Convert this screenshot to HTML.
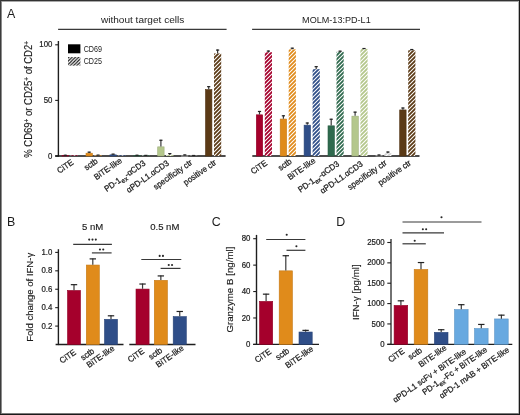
<!DOCTYPE html>
<html><head><meta charset="utf-8"><style>
html,body{margin:0;padding:0;background:#fff;width:520px;height:415px;overflow:hidden}
svg{display:block;will-change:transform;font-family:"Liberation Sans", sans-serif}
.s{stroke:#1c1c1c;stroke-width:0.25px}
.t{stroke:#1c1c1c;stroke-width:0.22px}
.u{stroke:#1c1c1c;stroke-width:0.15px}
</style></head><body>
<svg width="520" height="415" viewBox="0 0 520 415">
<defs>
<pattern id="h_a5002c" patternUnits="userSpaceOnUse" width="4" height="4"><rect width="4" height="4" fill="#ffffff"/><path d="M-1,1 l2,-2 M0,4 l4,-4 M3,5 l2,-2" stroke="#a5002c" stroke-width="1.8"/></pattern>
<pattern id="h_e08b1b" patternUnits="userSpaceOnUse" width="4" height="4"><rect width="4" height="4" fill="#ffffff"/><path d="M-1,1 l2,-2 M0,4 l4,-4 M3,5 l2,-2" stroke="#e08b1b" stroke-width="1.8"/></pattern>
<pattern id="h_2f4e88" patternUnits="userSpaceOnUse" width="4" height="4"><rect width="4" height="4" fill="#ffffff"/><path d="M-1,1 l2,-2 M0,4 l4,-4 M3,5 l2,-2" stroke="#2f4e88" stroke-width="1.8"/></pattern>
<pattern id="h_2f6a4e" patternUnits="userSpaceOnUse" width="4" height="4"><rect width="4" height="4" fill="#ffffff"/><path d="M-1,1 l2,-2 M0,4 l4,-4 M3,5 l2,-2" stroke="#2f6a4e" stroke-width="1.8"/></pattern>
<pattern id="h_b4c78c" patternUnits="userSpaceOnUse" width="4" height="4"><rect width="4" height="4" fill="#ffffff"/><path d="M-1,1 l2,-2 M0,4 l4,-4 M3,5 l2,-2" stroke="#b4c78c" stroke-width="1.8"/></pattern>
<pattern id="h_cfcfcf" patternUnits="userSpaceOnUse" width="4" height="4"><rect width="4" height="4" fill="#ffffff"/><path d="M-1,1 l2,-2 M0,4 l4,-4 M3,5 l2,-2" stroke="#cfcfcf" stroke-width="1.8"/></pattern>
<pattern id="h_5b3a16" patternUnits="userSpaceOnUse" width="4" height="4"><rect width="4" height="4" fill="#ffffff"/><path d="M-1,1 l2,-2 M0,4 l4,-4 M3,5 l2,-2" stroke="#5b3a16" stroke-width="1.8"/></pattern>
<pattern id="h_leg" patternUnits="userSpaceOnUse" width="3.3" height="3.3" x="0.6" y="0"><rect width="3.3" height="3.3" fill="#ffffff"/><path d="M-1,1 l2,-2 M0,3.3 l3.3,-3.3 M2.3,4.3 l2,-2" stroke="#111" stroke-width="1.1"/></pattern>
</defs>
<rect width="520" height="415" fill="#fff"/>
<text x="7.0" y="17.6" font-size="12.4" text-anchor="start" fill="#1c1c1c">A</text>
<text x="142.6" y="23.1" font-size="9.4" text-anchor="middle" fill="#1c1c1c" textLength="83.4" lengthAdjust="spacingAndGlyphs">without target cells</text>
<line x1="58.1" y1="29.4" x2="226.6" y2="29.4" stroke="#3a3a3a" stroke-width="1.2"/>
<text x="336.4" y="23.0" font-size="9.4" text-anchor="middle" fill="#1c1c1c" textLength="68.6" lengthAdjust="spacingAndGlyphs">MOLM-13:PD-L1</text>
<line x1="252.1" y1="29.4" x2="420" y2="29.4" stroke="#3a3a3a" stroke-width="1.2"/>
<line x1="58.4" y1="41" x2="58.4" y2="156.6" stroke="#1e1e1e" stroke-width="1.4"/>
<line x1="55.2" y1="44.79999999999998" x2="58.4" y2="44.79999999999998" stroke="#1e1e1e" stroke-width="1.1"/>
<text x="0" y="0" font-size="8.6" text-anchor="end" fill="#1c1c1c" transform="translate(52.40 47.40) scale(0.91 1)" class="t">100</text>
<line x1="55.2" y1="100.39999999999999" x2="58.4" y2="100.39999999999999" stroke="#1e1e1e" stroke-width="1.1"/>
<text x="0" y="0" font-size="8.6" text-anchor="end" fill="#1c1c1c" transform="translate(52.40 103.00) scale(0.91 1)" class="t">50</text>
<line x1="55.2" y1="156.0" x2="58.4" y2="156.0" stroke="#1e1e1e" stroke-width="1.1"/>
<text x="0" y="0" font-size="8.6" text-anchor="end" fill="#1c1c1c" transform="translate(52.40 158.60) scale(0.91 1)" class="t">0</text>
<text x="0" y="0" font-size="10.1" text-anchor="middle" fill="#1c1c1c" transform="translate(32.30 99.40) rotate(-90) scale(0.94 1)" class="u">% CD69<tspan dy="-3.6" font-size="6.8">+</tspan><tspan dy="3.6"> or CD25</tspan><tspan dy="-3.6" font-size="6.8">+</tspan><tspan dy="3.6"> of CD2</tspan><tspan dy="-3.6" font-size="6.8">+</tspan></text>
<rect x="68.00" y="44.30" width="12.40" height="9.00" fill="#000"/>
<rect x="68.00" y="57.00" width="12.40" height="8.60" fill="url(#h_leg)"/>
<text x="83.7" y="52.2" font-size="8.4" text-anchor="start" fill="#1c1c1c" textLength="18.3" lengthAdjust="spacingAndGlyphs">CD69</text>
<text x="83.7" y="64.2" font-size="8.4" text-anchor="start" fill="#1c1c1c" textLength="18.3" lengthAdjust="spacingAndGlyphs">CD25</text>
<line x1="55.2" y1="156.0" x2="225.6" y2="156.0" stroke="#111" stroke-width="1.5"/>
<rect x="62.10" y="155.41" width="6.40" height="0.59" fill="#a5002c" stroke="#910026" stroke-width="0.6"/>
<line x1="65.3" y1="154.7768" x2="65.3" y2="155.1104" stroke="#3a3a3a" stroke-width="1.2"/>
<line x1="63.699999999999996" y1="155.2768" x2="66.89999999999999" y2="155.2768" stroke="#222" stroke-width="1.2"/>
<rect x="70.60" y="155.40" width="7.20" height="0.60" fill="url(#h_a5002c)"/>
<rect x="86.00" y="153.19" width="6.40" height="2.81" fill="#e08b1b" stroke="#c57a17" stroke-width="0.6"/>
<line x1="89.19999999999999" y1="151.6632" x2="89.19999999999999" y2="152.8864" stroke="#3a3a3a" stroke-width="1.2"/>
<line x1="87.6" y1="152.1632" x2="90.79999999999998" y2="152.1632" stroke="#222" stroke-width="1.2"/>
<rect x="94.50" y="155.33" width="7.20" height="0.67" fill="url(#h_e08b1b)"/>
<line x1="98.09999999999998" y1="154.6656" x2="98.09999999999998" y2="155.3328" stroke="#3a3a3a" stroke-width="1.2"/>
<line x1="96.49999999999999" y1="155.1656" x2="99.69999999999997" y2="155.1656" stroke="#222" stroke-width="1.2"/>
<rect x="109.90" y="154.85" width="6.40" height="1.15" fill="#2f4e88" stroke="#294477" stroke-width="0.6"/>
<line x1="113.1" y1="153.6648" x2="113.1" y2="154.5544" stroke="#3a3a3a" stroke-width="1.2"/>
<line x1="111.5" y1="154.1648" x2="114.69999999999999" y2="154.1648" stroke="#222" stroke-width="1.2"/>
<rect x="118.40" y="155.40" width="7.20" height="0.60" fill="url(#h_2f4e88)"/>
<rect x="133.80" y="155.52" width="6.40" height="0.48" fill="#2f6a4e" stroke="#295d44" stroke-width="0.6"/>
<line x1="137.0" y1="154.7768" x2="137.0" y2="155.2216" stroke="#3a3a3a" stroke-width="1.2"/>
<line x1="135.4" y1="155.2768" x2="138.6" y2="155.2768" stroke="#222" stroke-width="1.2"/>
<rect x="142.30" y="155.33" width="7.20" height="0.67" fill="url(#h_2f6a4e)"/>
<line x1="145.9" y1="154.888" x2="145.9" y2="155.3328" stroke="#3a3a3a" stroke-width="1.2"/>
<line x1="144.3" y1="155.388" x2="147.5" y2="155.388" stroke="#222" stroke-width="1.2"/>
<rect x="157.70" y="146.85" width="6.40" height="9.15" fill="#b4c78c" stroke="#9eaf7b" stroke-width="0.6"/>
<line x1="160.89999999999998" y1="139.7648" x2="160.89999999999998" y2="146.548" stroke="#3a3a3a" stroke-width="1.2"/>
<line x1="159.29999999999998" y1="140.2648" x2="162.49999999999997" y2="140.2648" stroke="#222" stroke-width="1.2"/>
<rect x="166.20" y="154.89" width="7.20" height="1.11" fill="url(#h_b4c78c)"/>
<line x1="169.79999999999998" y1="153.1088" x2="169.79999999999998" y2="154.888" stroke="#3a3a3a" stroke-width="1.2"/>
<line x1="168.2" y1="153.6088" x2="171.39999999999998" y2="153.6088" stroke="#222" stroke-width="1.2"/>
<rect x="181.60" y="155.86" width="6.40" height="0.30" fill="#cfcfcf" stroke="#b6b6b6" stroke-width="0.6"/>
<line x1="184.8" y1="154.4432" x2="184.8" y2="155.5552" stroke="#3a3a3a" stroke-width="1.2"/>
<line x1="183.20000000000002" y1="154.9432" x2="186.4" y2="154.9432" stroke="#222" stroke-width="1.2"/>
<rect x="190.10" y="155.67" width="7.20" height="0.33" fill="url(#h_cfcfcf)"/>
<line x1="193.70000000000002" y1="154.9992" x2="193.70000000000002" y2="155.6664" stroke="#3a3a3a" stroke-width="1.2"/>
<line x1="192.10000000000002" y1="155.4992" x2="195.3" y2="155.4992" stroke="#222" stroke-width="1.2"/>
<rect x="205.50" y="89.58" width="6.40" height="66.42" fill="#5b3a16" stroke="#503313" stroke-width="0.6"/>
<line x1="208.7" y1="86.1664" x2="208.7" y2="89.28" stroke="#3a3a3a" stroke-width="1.2"/>
<line x1="207.1" y1="86.6664" x2="210.29999999999998" y2="86.6664" stroke="#222" stroke-width="1.2"/>
<rect x="214.00" y="53.47" width="7.20" height="102.53" fill="url(#h_5b3a16)"/>
<line x1="217.6" y1="49.58159999999998" x2="217.6" y2="53.47359999999999" stroke="#3a3a3a" stroke-width="1.2"/>
<line x1="216.0" y1="50.08159999999998" x2="219.2" y2="50.08159999999998" stroke="#222" stroke-width="1.2"/>
<line x1="252.3" y1="156.0" x2="419.5" y2="156.0" stroke="#111" stroke-width="1.5"/>
<rect x="256.30" y="114.82" width="6.40" height="41.18" fill="#a5002c" stroke="#910026" stroke-width="0.6"/>
<line x1="259.5" y1="110.964" x2="259.5" y2="114.5224" stroke="#3a3a3a" stroke-width="1.2"/>
<line x1="257.9" y1="111.464" x2="261.1" y2="111.464" stroke="#222" stroke-width="1.2"/>
<rect x="264.80" y="52.25" width="7.20" height="103.75" fill="url(#h_a5002c)"/>
<line x1="268.40000000000003" y1="50.58239999999999" x2="268.40000000000003" y2="52.2504" stroke="#3a3a3a" stroke-width="1.2"/>
<line x1="266.8" y1="51.08239999999999" x2="270.00000000000006" y2="51.08239999999999" stroke="#222" stroke-width="1.2"/>
<rect x="280.20" y="119.05" width="6.40" height="36.95" fill="#e08b1b" stroke="#c57a17" stroke-width="0.6"/>
<line x1="283.4" y1="115.3008" x2="283.4" y2="118.74799999999999" stroke="#3a3a3a" stroke-width="1.2"/>
<line x1="281.79999999999995" y1="115.8008" x2="285.0" y2="115.8008" stroke="#222" stroke-width="1.2"/>
<rect x="288.70" y="49.36" width="7.20" height="106.64" fill="url(#h_e08b1b)"/>
<line x1="292.3" y1="47.69119999999998" x2="292.3" y2="49.35919999999999" stroke="#3a3a3a" stroke-width="1.2"/>
<line x1="290.7" y1="48.19119999999998" x2="293.90000000000003" y2="48.19119999999998" stroke="#222" stroke-width="1.2"/>
<rect x="304.10" y="125.16" width="6.40" height="30.84" fill="#2f4e88" stroke="#294477" stroke-width="0.6"/>
<line x1="307.3" y1="122.52879999999999" x2="307.3" y2="124.864" stroke="#3a3a3a" stroke-width="1.2"/>
<line x1="305.7" y1="123.02879999999999" x2="308.90000000000003" y2="123.02879999999999" stroke="#222" stroke-width="1.2"/>
<rect x="312.60" y="69.15" width="7.20" height="86.85" fill="url(#h_2f4e88)"/>
<line x1="316.20000000000005" y1="66.15039999999999" x2="316.20000000000005" y2="69.1528" stroke="#3a3a3a" stroke-width="1.2"/>
<line x1="314.6" y1="66.65039999999999" x2="317.80000000000007" y2="66.65039999999999" stroke="#222" stroke-width="1.2"/>
<rect x="328.00" y="125.83" width="6.40" height="30.17" fill="#2f6a4e" stroke="#295d44" stroke-width="0.6"/>
<line x1="331.2" y1="118.74799999999999" x2="331.2" y2="125.5312" stroke="#3a3a3a" stroke-width="1.2"/>
<line x1="329.59999999999997" y1="119.24799999999999" x2="332.8" y2="119.24799999999999" stroke="#222" stroke-width="1.2"/>
<rect x="336.50" y="51.81" width="7.20" height="104.19" fill="url(#h_2f6a4e)"/>
<line x1="340.1" y1="50.69359999999999" x2="340.1" y2="51.805599999999984" stroke="#3a3a3a" stroke-width="1.2"/>
<line x1="338.5" y1="51.19359999999999" x2="341.70000000000005" y2="51.19359999999999" stroke="#222" stroke-width="1.2"/>
<rect x="351.90" y="116.16" width="6.40" height="39.84" fill="#b4c78c" stroke="#9eaf7b" stroke-width="0.6"/>
<line x1="355.1" y1="111.6312" x2="355.1" y2="115.85679999999999" stroke="#3a3a3a" stroke-width="1.2"/>
<line x1="353.5" y1="112.1312" x2="356.70000000000005" y2="112.1312" stroke="#222" stroke-width="1.2"/>
<rect x="360.40" y="48.91" width="7.20" height="107.09" fill="url(#h_b4c78c)"/>
<line x1="364.00000000000006" y1="48.0248" x2="364.00000000000006" y2="48.9144" stroke="#3a3a3a" stroke-width="1.2"/>
<line x1="362.40000000000003" y1="48.5248" x2="365.6000000000001" y2="48.5248" stroke="#222" stroke-width="1.2"/>
<rect x="375.80" y="155.70" width="6.40" height="0.30" fill="#cfcfcf" stroke="#b6b6b6" stroke-width="0.6"/>
<line x1="379.0" y1="154.5544" x2="379.0" y2="155.4" stroke="#3a3a3a" stroke-width="1.2"/>
<line x1="377.4" y1="155.0544" x2="380.6" y2="155.0544" stroke="#222" stroke-width="1.2"/>
<rect x="384.30" y="153.22" width="7.20" height="2.78" fill="url(#h_cfcfcf)"/>
<line x1="387.90000000000003" y1="151.552" x2="387.90000000000003" y2="153.22" stroke="#3a3a3a" stroke-width="1.2"/>
<line x1="386.3" y1="152.052" x2="389.50000000000006" y2="152.052" stroke="#222" stroke-width="1.2"/>
<rect x="399.70" y="109.93" width="6.40" height="46.07" fill="#5b3a16" stroke="#503313" stroke-width="0.6"/>
<line x1="402.9" y1="107.51679999999999" x2="402.9" y2="109.62959999999998" stroke="#3a3a3a" stroke-width="1.2"/>
<line x1="401.29999999999995" y1="108.01679999999999" x2="404.5" y2="108.01679999999999" stroke="#222" stroke-width="1.2"/>
<rect x="408.20" y="50.25" width="7.20" height="105.75" fill="url(#h_5b3a16)"/>
<line x1="411.8" y1="49.02559999999998" x2="411.8" y2="50.2488" stroke="#3a3a3a" stroke-width="1.2"/>
<line x1="410.2" y1="49.52559999999998" x2="413.40000000000003" y2="49.52559999999998" stroke="#222" stroke-width="1.2"/>
<text x="7.0" y="225.5" font-size="12.4" text-anchor="start" fill="#1c1c1c">B</text>
<line x1="58.4" y1="249.2" x2="58.4" y2="345.1" stroke="#1e1e1e" stroke-width="1.4"/>
<line x1="55.2" y1="252.4" x2="58.4" y2="252.4" stroke="#1e1e1e" stroke-width="1.1"/>
<text x="0" y="0" font-size="8.6" text-anchor="end" fill="#1c1c1c" transform="translate(52.40 255.00) scale(0.91 1)" class="t">1.0</text>
<line x1="55.2" y1="270.82" x2="58.4" y2="270.82" stroke="#1e1e1e" stroke-width="1.1"/>
<text x="0" y="0" font-size="8.6" text-anchor="end" fill="#1c1c1c" transform="translate(52.40 273.42) scale(0.91 1)" class="t">0.8</text>
<line x1="55.2" y1="289.24" x2="58.4" y2="289.24" stroke="#1e1e1e" stroke-width="1.1"/>
<text x="0" y="0" font-size="8.6" text-anchor="end" fill="#1c1c1c" transform="translate(52.40 291.84) scale(0.91 1)" class="t">0.6</text>
<line x1="55.2" y1="307.66" x2="58.4" y2="307.66" stroke="#1e1e1e" stroke-width="1.1"/>
<text x="0" y="0" font-size="8.6" text-anchor="end" fill="#1c1c1c" transform="translate(52.40 310.26) scale(0.91 1)" class="t">0.4</text>
<line x1="55.2" y1="326.08" x2="58.4" y2="326.08" stroke="#1e1e1e" stroke-width="1.1"/>
<text x="0" y="0" font-size="8.6" text-anchor="end" fill="#1c1c1c" transform="translate(52.40 328.68) scale(0.91 1)" class="t">0.2</text>
<line x1="55.6" y1="344.5" x2="123.5" y2="344.5" stroke="#1e1e1e" stroke-width="1.3"/>
<line x1="129.3" y1="344.5" x2="195.5" y2="344.5" stroke="#1e1e1e" stroke-width="1.3"/>
<text x="33.4" y="297.3" font-size="9.5" text-anchor="middle" fill="#1c1c1c" transform="rotate(-90 33.4 297.3)" textLength="89" lengthAdjust="spacingAndGlyphs" class="u">Fold change of IFN-γ</text>
<text x="92.7" y="230.0" font-size="9.8" text-anchor="middle" fill="#1c1c1c" textLength="21.3" lengthAdjust="spacingAndGlyphs" class="u">5 nM</text>
<text x="164.8" y="230.0" font-size="9.8" text-anchor="middle" fill="#1c1c1c" textLength="29.2" lengthAdjust="spacingAndGlyphs" class="u">0.5 nM</text>
<rect x="67.50" y="290.46" width="13.00" height="54.04" fill="#a5002c" stroke="#910026" stroke-width="0.6"/>
<line x1="74.0" y1="284.1745" x2="74.0" y2="290.161" stroke="#3a3a3a" stroke-width="1.2"/>
<line x1="70.8" y1="284.6745" x2="77.2" y2="284.6745" stroke="#222" stroke-width="1.2"/>
<rect x="86.30" y="265.04" width="13.00" height="79.46" fill="#e08b1b" stroke="#c57a17" stroke-width="0.6"/>
<line x1="92.8" y1="258.3865" x2="92.8" y2="264.7414" stroke="#3a3a3a" stroke-width="1.2"/>
<line x1="89.6" y1="258.8865" x2="96.0" y2="258.8865" stroke="#222" stroke-width="1.2"/>
<rect x="104.50" y="319.29" width="13.00" height="25.21" fill="#2f4e88" stroke="#294477" stroke-width="0.6"/>
<line x1="111.0" y1="315.3043" x2="111.0" y2="318.9883" stroke="#3a3a3a" stroke-width="1.2"/>
<line x1="107.8" y1="315.8043" x2="114.2" y2="315.8043" stroke="#222" stroke-width="1.2"/>
<rect x="136.00" y="289.08" width="13.10" height="55.42" fill="#a5002c" stroke="#910026" stroke-width="0.6"/>
<line x1="142.54999999999998" y1="283.5298" x2="142.54999999999998" y2="288.7795" stroke="#3a3a3a" stroke-width="1.2"/>
<line x1="139.35" y1="284.0298" x2="145.74999999999997" y2="284.0298" stroke="#222" stroke-width="1.2"/>
<rect x="154.30" y="280.33" width="13.10" height="64.17" fill="#e08b1b" stroke="#c57a17" stroke-width="0.6"/>
<line x1="160.85" y1="275.425" x2="160.85" y2="280.03" stroke="#3a3a3a" stroke-width="1.2"/>
<line x1="157.65" y1="275.925" x2="164.04999999999998" y2="275.925" stroke="#222" stroke-width="1.2"/>
<rect x="173.20" y="316.62" width="13.10" height="27.88" fill="#2f4e88" stroke="#294477" stroke-width="0.6"/>
<line x1="179.75" y1="310.9756" x2="179.75" y2="316.3174" stroke="#3a3a3a" stroke-width="1.2"/>
<line x1="176.55" y1="311.4756" x2="182.95" y2="311.4756" stroke="#222" stroke-width="1.2"/>
<line x1="73.2" y1="244.3" x2="111.9" y2="244.3" stroke="#383838" stroke-width="1.2"/>
<circle cx="89.20" cy="239.60" r="1.05" fill="#262626"/>
<circle cx="92.50" cy="239.60" r="1.05" fill="#262626"/>
<circle cx="95.80" cy="239.60" r="1.05" fill="#262626"/>
<line x1="91.9" y1="252.9" x2="111.6" y2="252.9" stroke="#383838" stroke-width="1.2"/>
<circle cx="99.95" cy="249.50" r="1.05" fill="#262626"/>
<circle cx="103.25" cy="249.50" r="1.05" fill="#262626"/>
<line x1="141.3" y1="259.5" x2="181.3" y2="259.5" stroke="#383838" stroke-width="1.2"/>
<circle cx="159.65" cy="255.90" r="1.05" fill="#262626"/>
<circle cx="162.95" cy="255.90" r="1.05" fill="#262626"/>
<line x1="160.6" y1="268.4" x2="180.5" y2="268.4" stroke="#383838" stroke-width="1.2"/>
<circle cx="168.75" cy="265.00" r="1.05" fill="#262626"/>
<circle cx="172.05" cy="265.00" r="1.05" fill="#262626"/>
<text x="211.8" y="225.5" font-size="12.4" text-anchor="start" fill="#1c1c1c">C</text>
<line x1="256.5" y1="234.9" x2="256.5" y2="345.0" stroke="#1e1e1e" stroke-width="1.4"/>
<line x1="253.2" y1="238.7" x2="256.5" y2="238.7" stroke="#1e1e1e" stroke-width="1.1"/>
<text x="0" y="0" font-size="8.6" text-anchor="end" fill="#1c1c1c" transform="translate(250.40 241.30) scale(0.91 1)" class="t">80</text>
<line x1="253.2" y1="265.125" x2="256.5" y2="265.125" stroke="#1e1e1e" stroke-width="1.1"/>
<text x="0" y="0" font-size="8.6" text-anchor="end" fill="#1c1c1c" transform="translate(250.40 267.73) scale(0.91 1)" class="t">60</text>
<line x1="253.2" y1="291.54999999999995" x2="256.5" y2="291.54999999999995" stroke="#1e1e1e" stroke-width="1.1"/>
<text x="0" y="0" font-size="8.6" text-anchor="end" fill="#1c1c1c" transform="translate(250.40 294.15) scale(0.91 1)" class="t">40</text>
<line x1="253.2" y1="317.97499999999997" x2="256.5" y2="317.97499999999997" stroke="#1e1e1e" stroke-width="1.1"/>
<text x="0" y="0" font-size="8.6" text-anchor="end" fill="#1c1c1c" transform="translate(250.40 320.57) scale(0.91 1)" class="t">20</text>
<line x1="253.2" y1="344.4" x2="256.5" y2="344.4" stroke="#1e1e1e" stroke-width="1.1"/>
<text x="0" y="0" font-size="8.6" text-anchor="end" fill="#1c1c1c" transform="translate(250.40 347.00) scale(0.91 1)" class="t">0</text>
<line x1="253.2" y1="344.4" x2="319" y2="344.4" stroke="#1e1e1e" stroke-width="1.3"/>
<text x="233.0" y="289.6" font-size="9.5" text-anchor="middle" fill="#1c1c1c" transform="rotate(-90 233.0 289.6)" textLength="86" lengthAdjust="spacingAndGlyphs" class="u">Granzyme B [ng/ml]</text>
<rect x="259.50" y="301.36" width="13.20" height="43.04" fill="#a5002c" stroke="#910026" stroke-width="0.6"/>
<line x1="266.09999999999997" y1="293.664" x2="266.09999999999997" y2="301.063" stroke="#3a3a3a" stroke-width="1.2"/>
<line x1="262.9" y1="294.164" x2="269.29999999999995" y2="294.164" stroke="#222" stroke-width="1.2"/>
<rect x="279.20" y="270.84" width="13.20" height="73.56" fill="#e08b1b" stroke="#c57a17" stroke-width="0.6"/>
<line x1="285.79999999999995" y1="255.215625" x2="285.79999999999995" y2="270.542125" stroke="#3a3a3a" stroke-width="1.2"/>
<line x1="282.59999999999997" y1="255.715625" x2="288.99999999999994" y2="255.715625" stroke="#222" stroke-width="1.2"/>
<rect x="299.00" y="332.02" width="13.20" height="12.38" fill="#2f4e88" stroke="#294477" stroke-width="0.6"/>
<line x1="305.59999999999997" y1="329.86625" x2="305.59999999999997" y2="331.716" stroke="#3a3a3a" stroke-width="1.2"/>
<line x1="302.4" y1="330.36625" x2="308.79999999999995" y2="330.36625" stroke="#222" stroke-width="1.2"/>
<line x1="266.2" y1="239.5" x2="305.4" y2="239.5" stroke="#383838" stroke-width="1.2"/>
<circle cx="286.70" cy="234.70" r="1.05" fill="#262626"/>
<line x1="286.5" y1="250.3" x2="305.4" y2="250.3" stroke="#383838" stroke-width="1.2"/>
<circle cx="296.40" cy="246.20" r="1.05" fill="#262626"/>
<text x="336.3" y="225.5" font-size="12.4" text-anchor="start" fill="#1c1c1c">D</text>
<line x1="391.0" y1="239.0" x2="391.0" y2="344.90000000000003" stroke="#1e1e1e" stroke-width="1.25"/>
<line x1="387.3" y1="242.5" x2="391.0" y2="242.5" stroke="#1e1e1e" stroke-width="1.1"/>
<text x="0" y="0" font-size="8.6" text-anchor="end" fill="#1c1c1c" transform="translate(384.60 245.10) scale(0.91 1)" class="t">2500</text>
<line x1="387.3" y1="262.86" x2="391.0" y2="262.86" stroke="#1e1e1e" stroke-width="1.1"/>
<text x="0" y="0" font-size="8.6" text-anchor="end" fill="#1c1c1c" transform="translate(384.60 265.46) scale(0.91 1)" class="t">2000</text>
<line x1="387.3" y1="283.22" x2="391.0" y2="283.22" stroke="#1e1e1e" stroke-width="1.1"/>
<text x="0" y="0" font-size="8.6" text-anchor="end" fill="#1c1c1c" transform="translate(384.60 285.82) scale(0.91 1)" class="t">1500</text>
<line x1="387.3" y1="303.58" x2="391.0" y2="303.58" stroke="#1e1e1e" stroke-width="1.1"/>
<text x="0" y="0" font-size="8.6" text-anchor="end" fill="#1c1c1c" transform="translate(384.60 306.18) scale(0.91 1)" class="t">1000</text>
<line x1="387.3" y1="323.94" x2="391.0" y2="323.94" stroke="#1e1e1e" stroke-width="1.1"/>
<text x="0" y="0" font-size="8.6" text-anchor="end" fill="#1c1c1c" transform="translate(384.60 326.54) scale(0.91 1)" class="t">500</text>
<line x1="387.3" y1="344.3" x2="391.0" y2="344.3" stroke="#1e1e1e" stroke-width="1.1"/>
<text x="0" y="0" font-size="8.6" text-anchor="end" fill="#1c1c1c" transform="translate(384.60 346.90) scale(0.91 1)" class="t">0</text>
<line x1="387.3" y1="344.3" x2="512.3" y2="344.3" stroke="#1e1e1e" stroke-width="1.3"/>
<text x="358.7" y="292.2" font-size="9.5" text-anchor="middle" fill="#1c1c1c" transform="rotate(-90 358.7 292.2)" textLength="55.7" lengthAdjust="spacingAndGlyphs" class="u">IFN-γ [pg/ml]</text>
<rect x="394.10" y="305.43" width="13.60" height="38.87" fill="#a5002c" stroke="#910026" stroke-width="0.6"/>
<line x1="400.90000000000003" y1="300.3224" x2="400.90000000000003" y2="305.12736" stroke="#3a3a3a" stroke-width="1.2"/>
<line x1="397.70000000000005" y1="300.8224" x2="404.1" y2="300.8224" stroke="#222" stroke-width="1.2"/>
<rect x="414.20" y="269.47" width="13.60" height="74.83" fill="#e08b1b" stroke="#c57a17" stroke-width="0.6"/>
<line x1="421.0" y1="262.0456" x2="421.0" y2="269.1716" stroke="#3a3a3a" stroke-width="1.2"/>
<line x1="417.8" y1="262.5456" x2="424.2" y2="262.5456" stroke="#222" stroke-width="1.2"/>
<rect x="434.40" y="332.38" width="13.60" height="11.92" fill="#2f4e88" stroke="#294477" stroke-width="0.6"/>
<line x1="441.20000000000005" y1="329.2336" x2="441.20000000000005" y2="332.084" stroke="#3a3a3a" stroke-width="1.2"/>
<line x1="438.00000000000006" y1="329.7336" x2="444.40000000000003" y2="329.7336" stroke="#222" stroke-width="1.2"/>
<rect x="454.50" y="309.58" width="13.60" height="34.72" fill="#68a9e0" stroke="#5b94c5" stroke-width="0.6"/>
<line x1="461.3" y1="304.1908" x2="461.3" y2="309.2808" stroke="#3a3a3a" stroke-width="1.2"/>
<line x1="458.1" y1="304.6908" x2="464.5" y2="304.6908" stroke="#222" stroke-width="1.2"/>
<rect x="474.50" y="328.52" width="13.60" height="15.78" fill="#68a9e0" stroke="#5b94c5" stroke-width="0.6"/>
<line x1="481.3" y1="323.94" x2="481.3" y2="328.2156" stroke="#3a3a3a" stroke-width="1.2"/>
<line x1="478.1" y1="324.44" x2="484.5" y2="324.44" stroke="#222" stroke-width="1.2"/>
<rect x="494.60" y="318.95" width="13.60" height="25.35" fill="#68a9e0" stroke="#5b94c5" stroke-width="0.6"/>
<line x1="501.40000000000003" y1="314.65584" x2="501.40000000000003" y2="318.6464" stroke="#3a3a3a" stroke-width="1.2"/>
<line x1="498.20000000000005" y1="315.15584" x2="504.6" y2="315.15584" stroke="#222" stroke-width="1.2"/>
<line x1="402.5" y1="222.0" x2="481.5" y2="222.0" stroke="#383838" stroke-width="1.2"/>
<circle cx="441.50" cy="217.30" r="1.05" fill="#262626"/>
<line x1="402.5" y1="232.8" x2="444" y2="232.8" stroke="#383838" stroke-width="1.2"/>
<circle cx="422.85" cy="229.20" r="1.05" fill="#262626"/>
<circle cx="426.15" cy="229.20" r="1.05" fill="#262626"/>
<line x1="402.5" y1="243.8" x2="425.8" y2="243.8" stroke="#383838" stroke-width="1.2"/>
<circle cx="414.70" cy="240.80" r="1.05" fill="#262626"/>
<text x="0" y="0" font-size="8.4" text-anchor="end" fill="#1c1c1c" transform="translate(74.05 163.65) rotate(-35) scale(0.95 1)" class="s">CiTE</text>
<text x="0" y="0" font-size="8.4" text-anchor="end" fill="#1c1c1c" transform="translate(98.40 162.40) rotate(-35) scale(0.95 1)" class="s">sctb</text>
<text x="0" y="0" font-size="8.4" text-anchor="end" fill="#1c1c1c" transform="translate(122.60 161.85) rotate(-35) scale(0.95 1)" class="s">BiTE-like</text>
<text x="0" y="0" font-size="8.4" text-anchor="end" fill="#1c1c1c" transform="translate(146.10 164.50) rotate(-35) scale(0.95 1)" class="s">PD-1<tspan dy="2.4" font-size="6.6">ex</tspan><tspan dy="-2.4">-αCD3</tspan></text>
<text x="0" y="0" font-size="8.4" text-anchor="end" fill="#1c1c1c" transform="translate(169.60 164.50) rotate(-35) scale(0.95 1)" class="s">αPD-L1.αCD3</text>
<text x="0" y="0" font-size="8.4" text-anchor="end" fill="#1c1c1c" transform="translate(193.05 163.80) rotate(-35) scale(0.95 1)" class="s">specificity ctr</text>
<text x="0" y="0" font-size="8.4" text-anchor="end" fill="#1c1c1c" transform="translate(217.05 163.80) rotate(-35) scale(0.95 1)" class="s">positive ctr</text>
<text x="0" y="0" font-size="8.4" text-anchor="end" fill="#1c1c1c" transform="translate(267.75 164.35) rotate(-35) scale(0.95 1)" class="s">CiTE</text>
<text x="0" y="0" font-size="8.4" text-anchor="end" fill="#1c1c1c" transform="translate(292.40 162.70) rotate(-35) scale(0.95 1)" class="s">sctb</text>
<text x="0" y="0" font-size="8.4" text-anchor="end" fill="#1c1c1c" transform="translate(316.10 161.95) rotate(-35) scale(0.95 1)" class="s">BiTE-like</text>
<text x="0" y="0" font-size="8.4" text-anchor="end" fill="#1c1c1c" transform="translate(339.80 165.20) rotate(-35) scale(0.95 1)" class="s">PD-1<tspan dy="2.4" font-size="6.6">ex</tspan><tspan dy="-2.4">-αCD3</tspan></text>
<text x="0" y="0" font-size="8.4" text-anchor="end" fill="#1c1c1c" transform="translate(363.50 165.30) rotate(-35) scale(0.95 1)" class="s">αPD-L1.αCD3</text>
<text x="0" y="0" font-size="8.4" text-anchor="end" fill="#1c1c1c" transform="translate(387.45 164.10) rotate(-35) scale(0.95 1)" class="s">specificity ctr</text>
<text x="0" y="0" font-size="8.4" text-anchor="end" fill="#1c1c1c" transform="translate(411.65 164.10) rotate(-35) scale(0.95 1)" class="s">positive ctr</text>
<text x="0" y="0" font-size="8.4" text-anchor="end" fill="#1c1c1c" transform="translate(76.55 353.65) rotate(-35) scale(0.95 1)" class="s">CiTE</text>
<text x="0" y="0" font-size="8.4" text-anchor="end" fill="#1c1c1c" transform="translate(95.00 352.40) rotate(-35) scale(0.95 1)" class="s">sctb</text>
<text x="0" y="0" font-size="8.4" text-anchor="end" fill="#1c1c1c" transform="translate(115.20 349.75) rotate(-35) scale(0.95 1)" class="s">BiTE-like</text>
<text x="0" y="0" font-size="8.4" text-anchor="end" fill="#1c1c1c" transform="translate(144.75 352.55) rotate(-35) scale(0.95 1)" class="s">CiTE</text>
<text x="0" y="0" font-size="8.4" text-anchor="end" fill="#1c1c1c" transform="translate(163.00 351.70) rotate(-35) scale(0.95 1)" class="s">sctb</text>
<text x="0" y="0" font-size="8.4" text-anchor="end" fill="#1c1c1c" transform="translate(184.50 349.45) rotate(-35) scale(0.95 1)" class="s">BiTE-like</text>
<text x="0" y="0" font-size="8.4" text-anchor="end" fill="#1c1c1c" transform="translate(271.75 352.95) rotate(-35) scale(0.95 1)" class="s">CiTE</text>
<text x="0" y="0" font-size="8.4" text-anchor="end" fill="#1c1c1c" transform="translate(290.00 352.20) rotate(-35) scale(0.95 1)" class="s">sctb</text>
<text x="0" y="0" font-size="8.4" text-anchor="end" fill="#1c1c1c" transform="translate(314.00 350.15) rotate(-35) scale(0.95 1)" class="s">BiTE-like</text>
<text x="0" y="0" font-size="8.4" text-anchor="end" fill="#1c1c1c" transform="translate(405.15 352.55) rotate(-35) scale(0.95 1)" class="s">CiTE</text>
<text x="0" y="0" font-size="8.4" text-anchor="end" fill="#1c1c1c" transform="translate(422.60 351.70) rotate(-35) scale(0.95 1)" class="s">sctb</text>
<text x="0" y="0" font-size="8.4" text-anchor="end" fill="#1c1c1c" transform="translate(447.20 349.25) rotate(-35) scale(0.95 1)" class="s">BiTE-like</text>
<text x="0" y="0" font-size="8.4" text-anchor="end" fill="#1c1c1c" transform="translate(466.80 352.95) rotate(-35) scale(0.95 1)" class="s">αPD-L1 scFv + BiTE-like</text>
<text x="0" y="0" font-size="8.4" text-anchor="end" fill="#1c1c1c" transform="translate(488.00 350.85) rotate(-35) scale(0.95 1)" class="s">PD-1<tspan dy="2.4" font-size="6.6">ex</tspan><tspan dy="-2.4">-Fc + BiTE-like</tspan></text>
<text x="0" y="0" font-size="8.4" text-anchor="end" fill="#1c1c1c" transform="translate(509.90 351.15) rotate(-35) scale(0.95 1)" class="s">αPD-1 mAB + BiTE-like</text>
<rect x="0.00" y="1.00" width="520.00" height="1.00" fill="#a8a8a8"/>
<rect x="1.00" y="0.00" width="1.00" height="415.00" fill="#8c8c8c"/>
<rect x="518.00" y="0.00" width="1.00" height="415.00" fill="#b8b8b8"/>
<rect x="0.00" y="413.00" width="520.00" height="1.00" fill="#7a7a7a"/>
<rect x="0.00" y="0.00" width="520.00" height="1.00" fill="#333"/>
<rect x="0.00" y="0.00" width="1.00" height="415.00" fill="#3c3c3c"/>
<rect x="519.00" y="0.00" width="1.00" height="415.00" fill="#1a1a1a"/>
<rect x="0.00" y="414.00" width="520.00" height="1.00" fill="#1a1a1a"/>
</svg>
</body></html>
